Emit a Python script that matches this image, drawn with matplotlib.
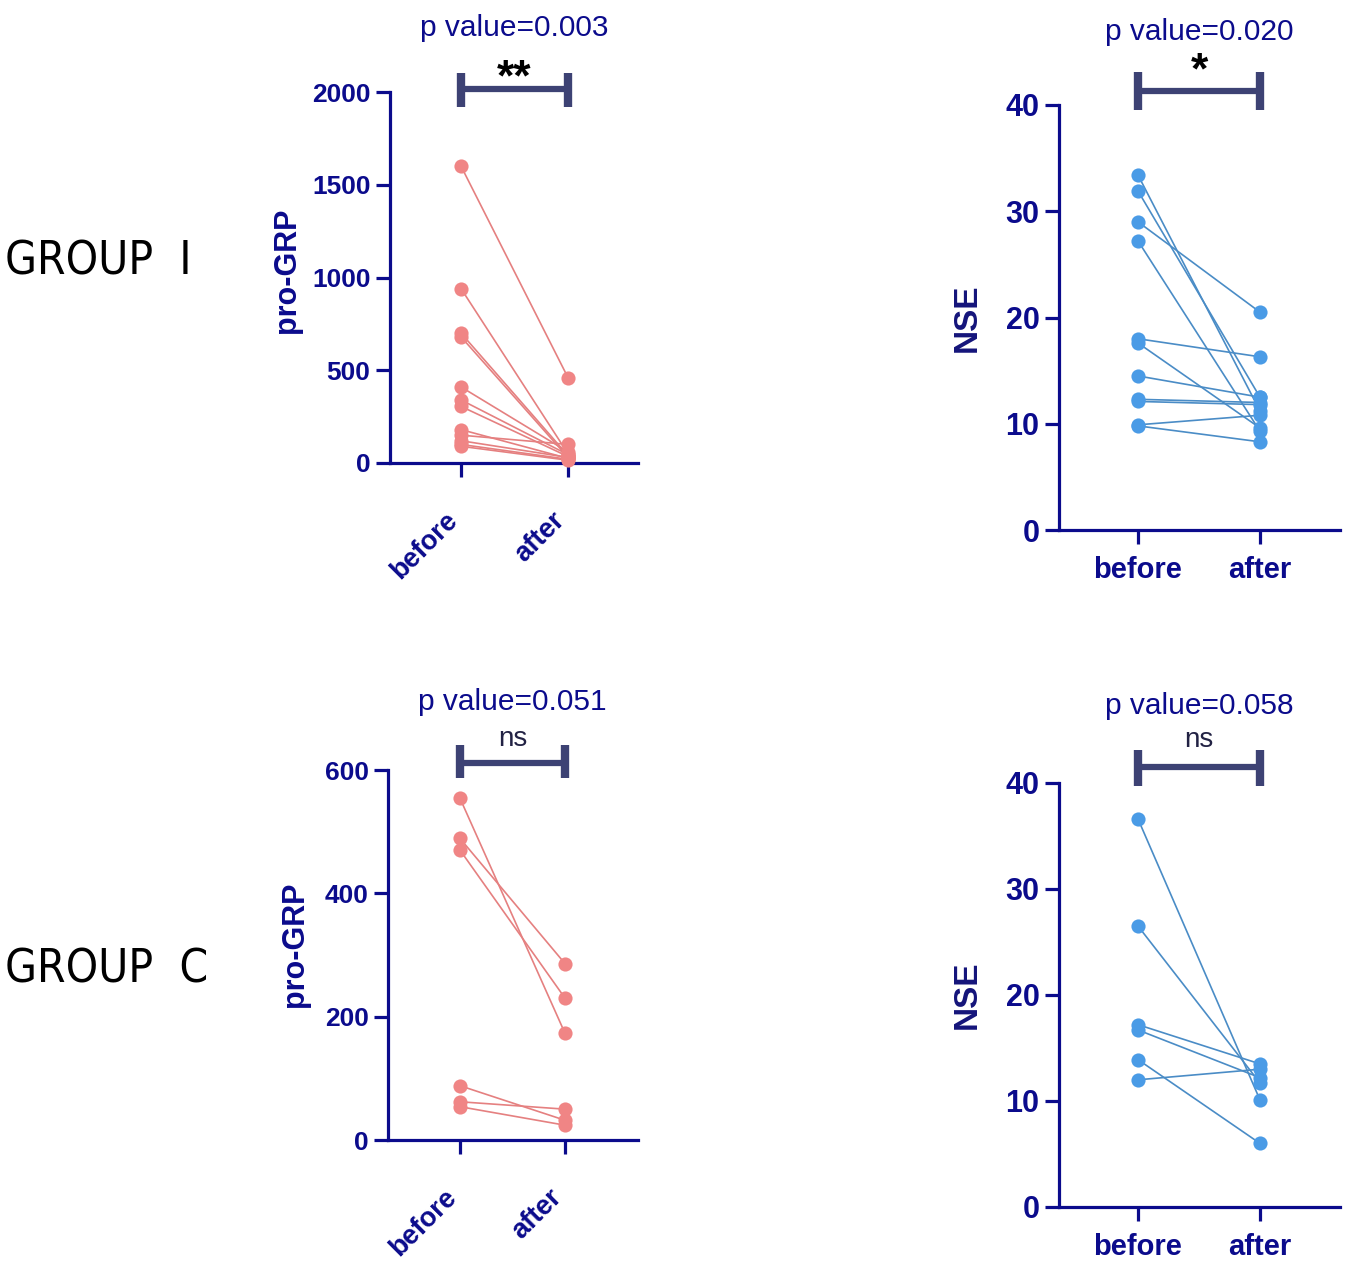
import matplotlib
matplotlib.use("Agg")
import matplotlib.pyplot as plt
from matplotlib.transforms import blended_transform_factory, ScaledTranslation

W, H = 1358, 1271
DPI = 100

# ---------------- data ----------------
conditions = ["before", "after"]

grp_I_progrp_before = [1600, 940, 700, 680, 410, 340, 305, 180, 150, 120, 100, 90]
grp_I_progrp_after = [460, 50, 40, 30, 60, 45, 35, 25, 100, 30, 20, 15]

grp_I_nse_before = [33.4, 31.9, 29.0, 27.2, 18.0, 17.6, 14.5, 12.3, 12.1, 9.9, 9.8]
grp_I_nse_after = [11.2, 12.5, 20.5, 9.3, 16.3, 9.6, 12.5, 12.0, 11.8, 10.8, 8.3]

grp_C_progrp_before = [554, 489, 470, 88, 62, 54]
grp_C_progrp_after = [173, 286, 230, 32, 50, 24]

grp_C_nse_before = [36.6, 26.5, 17.2, 16.7, 13.9, 12.0]
grp_C_nse_after = [10.1, 11.7, 13.5, 12.2, 6.0, 13.0]

p_values = ["p value=0.003", "p value=0.020", "p value=0.051", "p value=0.058"]
sig_marks = ["**", "*", "ns", "ns"]
group_labels = ["GROUP  I", "GROUP  C"]

progrp_ticks_I = [0, 500, 1000, 1500, 2000]
progrp_ticks_C = [0, 200, 400, 600]
nse_ticks = [0, 10, 20, 30, 40]

# ---------------- style ----------------
NAVY = "#0b0b8c"
BRACKET = "#3d4274"
PINK_M = "#f08585"
PINK_L = "#e58080"
BLUE_M = "#4a9be6"
BLUE_L = "#4a8cc6"

fig = plt.figure(figsize=(W / DPI, H / DPI), dpi=DPI)


def add_ax(left, right, top, bottom):
    return fig.add_axes([left / W, 1 - bottom / H, (right - left) / W, (bottom - top) / H])


def style_ax(ax, xlim, ylim, yticks, rot, tick_fs, xfs):
    ax.set_xlim(*xlim)
    ax.set_ylim(*ylim)
    ax.set_xticks([0, 1])
    ax.set_xticklabels(conditions)
    ax.set_yticks(yticks)
    for s in ["top", "right"]:
        ax.spines[s].set_visible(False)
    for s in ["left", "bottom"]:
        ax.spines[s].set_color(NAVY)
        ax.spines[s].set_linewidth(2.3)
    ax.tick_params(axis="both", colors=NAVY, width=2.3, length=10, direction="out")
    ax.tick_params(axis="y", labelsize=tick_fs, pad=4)
    for lab in ax.get_yticklabels():
        lab.set_fontweight("bold")
        lab.set_fontfamily("Liberation Sans")
        lab.set_color(NAVY)
    for lab in ax.get_xticklabels():
        lab.set_fontweight("bold")
        lab.set_fontfamily("Liberation Sans")
        lab.set_color(NAVY)
        lab.set_fontsize(xfs)
    if rot:
        ax.tick_params(axis="x", pad=22)
        for lab in ax.get_xticklabels():
            lab.set_rotation(45)
            lab.set_ha("right")
            lab.set_va("top")
            lab.set_rotation_mode("anchor")
            lab.set_transform(lab.get_transform() + ScaledTranslation(-12 / 72, 0, fig.dpi_scale_trans))
    else:
        ax.tick_params(axis="x", pad=9)


def draw_pairs(ax, before, after, mc, lc):
    for b, a in zip(before, after):
        ax.plot([0, 1], [b, a], color=lc, lw=1.2, zorder=2, clip_on=False)
    ax.plot([0] * len(before), before, "o", color=mc, ms=10.2, mec="none", zorder=3, clip_on=False)
    ax.plot([1] * len(after), after, "o", color=mc, ms=10.2, mec="none", zorder=3, clip_on=False)


def annotate(ax, ptext, mark, y_p, y_mark, y_br, y_cap_top, y_cap_bot, mark_fs, mark_col, mark_w):
    tr = blended_transform_factory(ax.transData, fig.transFigure)
    fy = lambda py: 1 - py / H
    ax.plot([0, 1], [fy(y_br), fy(y_br)], color=BRACKET, lw=4.5, transform=tr, clip_on=False,
            solid_capstyle="butt")
    for xx in [0, 1]:
        ax.plot([xx, xx], [fy(y_cap_top), fy(y_cap_bot)], color=BRACKET, lw=6, transform=tr,
                clip_on=False, solid_capstyle="butt")
    ax.text(0.5, fy(y_p), ptext, transform=tr, ha="center", va="center", fontsize=21.5,
            color=NAVY, family="Liberation Sans")
    ax.text(0.5, fy(y_mark), mark, transform=tr, ha="center", va="center", fontsize=mark_fs,
            color=mark_col, fontweight=mark_w, family="Liberation Sans")


# Panel 1: GROUP I pro-GRP
ax1 = add_ax(390, 638, 92, 463)
style_ax(ax1, (-0.664, 1.654), (0, 2000), progrp_ticks_I, True, 19, 19.5)
draw_pairs(ax1, grp_I_progrp_before, grp_I_progrp_after, PINK_M, PINK_L)
ax1.text(-0.415, 0.52, "pro-GRP", transform=ax1.transAxes, rotation=90, ha="center", va="center",
         fontsize=22, fontweight="bold", color=NAVY, family="Liberation Sans")
annotate(ax1, p_values[0], sig_marks[0], 28, 79, 89, 73, 107, 32, "black", "bold")

# Panel 2: GROUP I NSE
ax2 = add_ax(1059, 1340, 105, 530)
style_ax(ax2, (-0.648, 1.656), (0, 40), nse_ticks, False, 22, 21)
draw_pairs(ax2, grp_I_nse_before, grp_I_nse_after, BLUE_M, BLUE_L)
ax2.text(-0.325, 0.50, "NSE", transform=ax2.transAxes, rotation=90, ha="center", va="center",
         fontsize=24, fontweight="bold", color="#14147a", family="Liberation Sans")
annotate(ax2, p_values[1], sig_marks[1], 32, 72, 91, 72, 110, 32, "black", "bold")

# Panel 3: GROUP C pro-GRP
ax3 = add_ax(388, 638, 770, 1140)
style_ax(ax3, (-0.686, 1.695), (0, 600), progrp_ticks_C, True, 19, 19.5)
draw_pairs(ax3, grp_C_progrp_before, grp_C_progrp_after, PINK_M, PINK_L)
ax3.text(-0.37, 0.53, "pro-GRP", transform=ax3.transAxes, rotation=90, ha="center", va="center",
         fontsize=22, fontweight="bold", color=NAVY, family="Liberation Sans")
annotate(ax3, p_values[2], sig_marks[2], 702, 739, 763, 745, 778, 20, "#222244", "normal")

# Panel 4: GROUP C NSE
ax4 = add_ax(1059, 1340, 783, 1207)
style_ax(ax4, (-0.648, 1.656), (0, 40), nse_ticks, False, 22, 21)
draw_pairs(ax4, grp_C_nse_before, grp_C_nse_after, BLUE_M, BLUE_L)
ax4.text(-0.325, 0.50, "NSE", transform=ax4.transAxes, rotation=90, ha="center", va="center",
         fontsize=24, fontweight="bold", color="#14147a", family="Liberation Sans")
annotate(ax4, p_values[3], sig_marks[3], 706, 740, 767, 750, 786, 20, "#222244", "normal")

# Group labels
for lbl, py in zip(group_labels, [262, 970]):
    fig.text(5 / W, 1 - py / H, lbl, ha="left", va="center", fontsize=33,
             color="black", family="DejaVu Sans", stretch="condensed")

fig.savefig("out.png", dpi=DPI, facecolor="white")
